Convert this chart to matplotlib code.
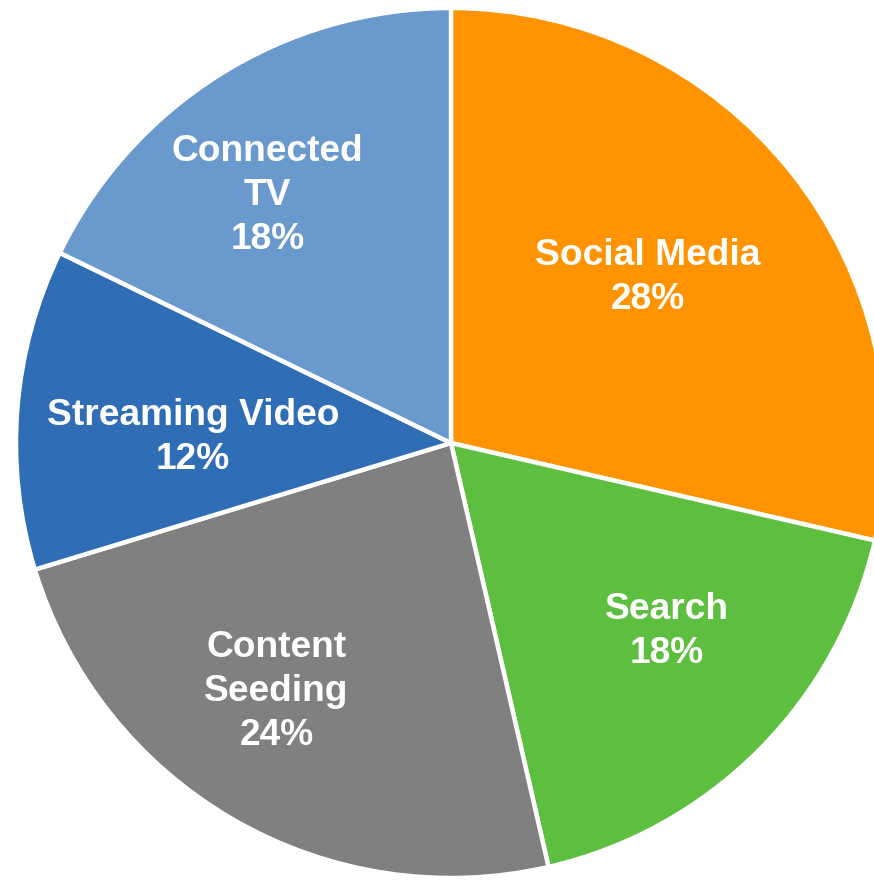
import numpy as np
import matplotlib.pyplot as plt

categories = ["Social Media", "Search", "Content\nSeeding", "Streaming Video", "Connected\nTV"]
shares = [28.6, 17.8, 23.9, 11.9, 17.8]
shown_pct = [28, 18, 24, 12, 18]
colors = ["#FF9300", "#5DBE3F", "#808080", "#2F6DB5", "#6A9ACD"]

# label placement tweaks: (fraction of radius, angle offset in degrees)
label_pos = [(0.597, 2.1), (0.653, 4.4), (0.691, -5.4), (0.593, 2.6), (0.715, 4.1)]

W, H, DPI = 874, 880, 100
R = 435  # radius in px
cx, cy = 451, 880 - 443  # center in px from bottom-left

fig = plt.figure(figsize=(W / DPI, H / DPI), dpi=DPI)
ax = fig.add_axes([0, 0, 1, 1])

wedges, _ = ax.pie(shares, colors=colors, startangle=90, counterclock=False,
                   radius=1.0, wedgeprops=dict(edgecolor="white", linewidth=3.2))
ax.set_xlim(-cx / R, (W - cx) / R)
ax.set_ylim(-cy / R, (H - cy) / R)
ax.set_aspect("equal")
ax.axis("off")

for w, name, val, (r, dth) in zip(wedges, categories, shown_pct, label_pos):
    th = np.deg2rad((w.theta1 + w.theta2) / 2 + dth)
    ax.annotate(f"{name}\n{val}%", (r * np.cos(th), r * np.sin(th)),
                xytext=(0, -2.5), textcoords="offset points",
                ha="center", va="center", color="white", fontsize=26.7,
                fontweight="bold", family="Liberation Sans", linespacing=1.33)

fig.savefig("out.png", dpi=DPI)
